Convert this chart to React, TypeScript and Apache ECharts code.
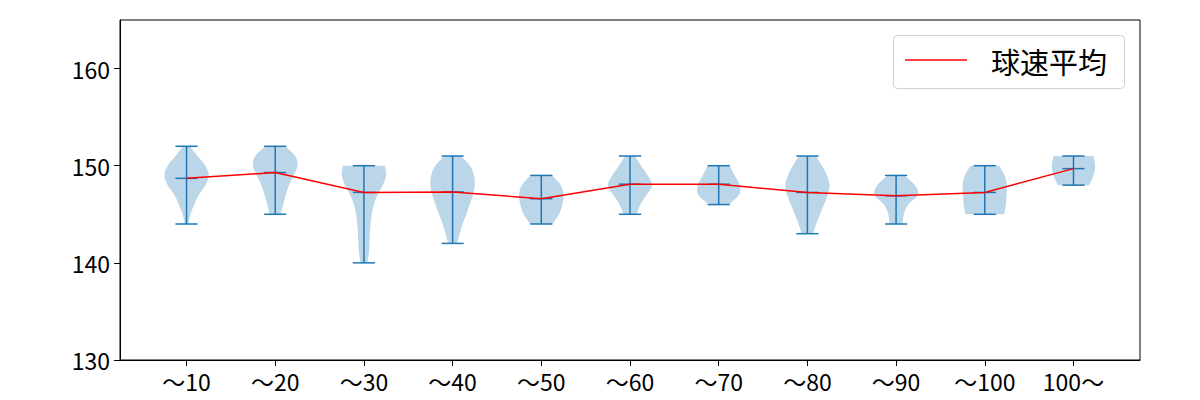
import React, { useEffect, useRef } from "react";
import * as echarts from "echarts";

const categories = ["〜10", "〜20", "〜30", "〜40", "〜50", "〜60", "〜70", "〜80", "〜90", "〜100", "100〜"];
const mins = [144, 145, 140, 142, 144, 145, 146, 143, 144, 145, 148];
const maxs = [152, 152, 150, 151, 149, 151, 150, 151, 149, 150, 151];
const means = [148.7, 149.3, 147.25, 147.3, 146.6, 148.1, 148.1, 147.25, 146.9, 147.25, 149.7];
const yTicks = [130, 140, 150, 160];

// density profile (relative half-width) from max down to min, evenly spaced
const p1 = [0.15, 0.5, 0.85, 1.0, 0.85, 0.55, 0.35, 0.18, 0.08];
const p2 = [0.45, 0.9, 1.0, 0.83, 0.62, 0.48, 0.36, 0.25];
const p3 = [0.95, 1.0, 0.85, 0.62, 0.45, 0.35, 0.3, 0.27, 0.25, 0.22, 0.15];
const p4 = [0.38, 0.78, 0.97, 1.0, 0.92, 0.77, 0.62, 0.45, 0.32, 0.2];
const p5 = [0.5, 0.88, 1.0, 0.95, 0.8, 0.5];
const p6 = [0.22, 0.5, 0.8, 1.0, 0.75, 0.47, 0.3];
const p7 = [0.5, 0.72, 0.95, 0.92, 0.45];
const p8 = [0.38, 0.66, 0.88, 1.0, 0.92, 0.75, 0.57, 0.4, 0.26];
const p9 = [0.38, 0.85, 0.98, 0.55, 0.35, 0.3];
const p10 = [0.65, 0.9, 1.0, 0.98, 0.95, 0.88];
const p11 = [0.9, 0.98, 0.9, 0.7];
const profiles = [p1, p2, p3, p4, p5, p6, p7, p8, p9, p10, p11];

const legendLabel = "球速平均";
const FONT = "'Noto Sans CJK JP', 'Noto Sans', sans-serif";
const BLUE = "#1f77b4";

function catmull(pts: number[][]): string {
  let d = "";
  const n = pts.length;
  for (let i = 0; i < n - 1; i++) {
    const p0 = pts[Math.max(0, i - 1)];
    const p1_ = pts[i];
    const p2_ = pts[i + 1];
    const p3_ = pts[Math.min(n - 1, i + 2)];
    const c1x = p1_[0] + (p2_[0] - p0[0]) / 6;
    const c1y = p1_[1] + (p2_[1] - p0[1]) / 6;
    const c2x = p2_[0] - (p3_[0] - p1_[0]) / 6;
    const c2y = p2_[1] - (p3_[1] - p1_[1]) / 6;
    d += ` C ${c1x} ${c1y} ${c2x} ${c2y} ${p2_[0]} ${p2_[1]}`;
  }
  return d;
}

export default function App() {
  const ref = useRef<HTMLDivElement>(null);
  useEffect(() => {
    if (!ref.current) return;
    const chart = echarts.init(ref.current, null, { renderer: "svg" });
    const violinData = categories.map((_, i) => [i + 1, mins[i], maxs[i], means[i], i]);
    const option: any = {
      animation: false,
      grid: {
        left: 120,
        right: 60,
        top: 20,
        bottom: 40,
        show: true,
        borderColor: "#000",
        borderWidth: 1,
        backgroundColor: "transparent",
      },
      xAxis: {
        type: "value",
        min: 0.25,
        max: 11.75,
        splitLine: { show: false },
        axisLine: { show: true, lineStyle: { color: "#000", width: 1 } },
        axisTick: {
          show: true,
          customValues: categories.map((_, i) => i + 1),
          length: 6,
          lineStyle: { color: "#000", width: 1 },
        },
        axisLabel: {
          customValues: categories.map((_, i) => i + 1),
          formatter: (v: number) => categories[Math.round(v) - 1] ?? "",
          color: "#000",
          fontSize: 23,
          fontFamily: FONT,
          margin: 9,
        },
      },
      yAxis: {
        type: "value",
        min: 130,
        max: 165,
        splitLine: { show: false },
        axisLine: { show: true, lineStyle: { color: "#000", width: 1 } },
        axisTick: { show: true, customValues: yTicks, length: 6, lineStyle: { color: "#000", width: 1 } },
        axisLabel: {
          customValues: yTicks,
          color: "#000",
          fontSize: 23,
          fontFamily: FONT,
          margin: 10,
        },
      },
      series: [
        {
          type: "custom",
          z: 2,
          data: violinData,
          encode: { x: 0, y: [1, 2] },
          renderItem: (params: any, api: any) => {
            const x = api.value(0);
            const lo = api.value(1);
            const hi = api.value(2);
            const mean = api.value(3);
            const idx = api.value(4);
            const prof = profiles[idx];
            const halfMax = api.size([0.25, 0])[0];
            const capHalf = api.size([0.125, 0])[0];
            const n = prof.length;
            const right: number[][] = [];
            const left: number[][] = [];
            for (let k = 0; k < n; k++) {
              const v = hi - ((hi - lo) * k) / (n - 1);
              const c = api.coord([x, v]);
              right.push([c[0] + prof[k] * halfMax, c[1]]);
              left.push([c[0] - prof[k] * halfMax, c[1]]);
            }
            const leftRev = left.slice().reverse();
            let d = `M ${right[0][0]} ${right[0][1]}` + catmull(right);
            d += ` L ${leftRev[0][0]} ${leftRev[0][1]}` + catmull(leftRev) + " Z";
            const top = api.coord([x, hi]);
            const bot = api.coord([x, lo]);
            const mid = api.coord([x, mean]);
            const ls = { stroke: BLUE, lineWidth: 1.5 };
            return {
              type: "group",
              children: [
                {
                  type: "path",
                  shape: { pathData: d },
                  style: { fill: "rgba(31,119,180,0.3)", stroke: "none" },
                },
                { type: "line", shape: { x1: top[0], y1: top[1], x2: bot[0], y2: bot[1] }, style: ls },
                { type: "line", shape: { x1: top[0] - capHalf, y1: top[1], x2: top[0] + capHalf, y2: top[1] }, style: ls },
                { type: "line", shape: { x1: bot[0] - capHalf, y1: bot[1], x2: bot[0] + capHalf, y2: bot[1] }, style: ls },
                { type: "line", shape: { x1: mid[0] - capHalf, y1: mid[1], x2: mid[0] + capHalf, y2: mid[1] }, style: ls },
              ],
            };
          },
        },
        {
          type: "line",
          name: legendLabel,
          z: 3,
          data: means.map((m, i) => [i + 1, m]),
          symbol: "none",
          lineStyle: { color: "#ff0000", width: 1.5 },
        },
      ],
      graphic: [
        {
          type: "rect",
          shape: { x: 893.5, y: 35.5, width: 231, height: 53, r: 4 },
          style: { fill: "rgba(255,255,255,0.8)", stroke: "#d0d0d0", lineWidth: 1 },
          z: 10,
        },
        {
          type: "line",
          shape: { x1: 905, y1: 60, x2: 967, y2: 60 },
          style: { stroke: "#ff0000", lineWidth: 1.5 },
          z: 11,
        },
        {
          type: "text",
          x: 991,
          y: 61,
          style: {
            text: legendLabel,
            fill: "#000",
            fontSize: 29,
            fontFamily: FONT,
            textVerticalAlign: "middle",
            verticalAlign: "middle",
          },
          z: 11,
        },
      ],
    };
    chart.setOption(option);
    return () => chart.dispose();
  }, []);
  return (
    <div
      ref={ref}
      style={{ position: "absolute", left: 0, top: 0, width: 1200, height: 400, background: "#fff" }}
    />
  );
}
